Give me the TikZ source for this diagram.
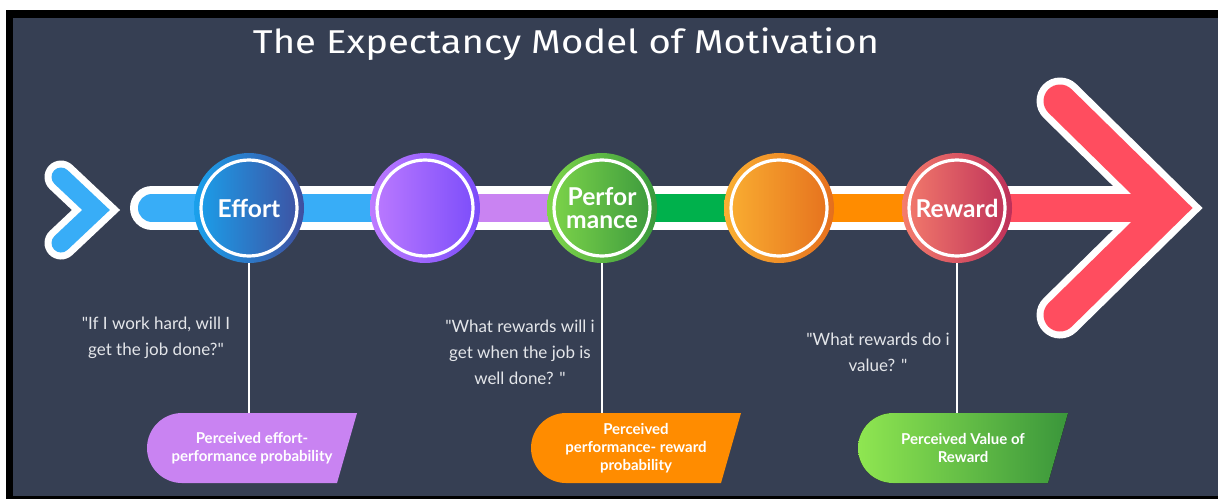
\documentclass[tikz,border=0pt]{standalone}
\usepackage{fontspec}
\setmainfont{Lato}
\newfontfamily\titlefont{Fira Sans}
\usetikzlibrary{positioning,calc}
\definecolor{panel}{HTML}{363F53}
\definecolor{quote}{HTML}{E4E6EA}
\definecolor{skyblue}{HTML}{38ADF7}
\definecolor{lilac}{HTML}{C983F2}
\definecolor{leaf}{HTML}{00B14C}
\definecolor{amber}{HTML}{FF8C00}
\definecolor{coral}{HTML}{FF4D5F}
% circle and tag gradients
\definecolor{effortL}{HTML}{1AA1EC}
\definecolor{effortR}{HTML}{3F4FA0}
\definecolor{violetL}{HTML}{BD7BFF}
\definecolor{violetR}{HTML}{7A4CFA}
\definecolor{perfL}{HTML}{7FD64A}
\definecolor{perfR}{HTML}{3A983D}
\definecolor{orangeL}{HTML}{FAB032}
\definecolor{orangeR}{HTML}{E56F1D}
\definecolor{rewardL}{HTML}{F47C6C}
\definecolor{rewardR}{HTML}{BD3059}
\definecolor{valueL}{HTML}{8FE651}
\definecolor{valueR}{HTML}{3A963B}
\newcommand{\qq}{\textquotedbl}
\tikzset{
  stage/.style 2 args={circle,minimum size=55pt,inner sep=0,text=white,
               left color=#1,right color=#2,align=center,
               font=\bfseries\fontsize{12.3}{11.5}\selectfont,
               path picture={\draw[white,line width=1.6pt]
                 (path picture bounding box.center) circle (24pt);}},
  probbox/.style={minimum width=105pt,minimum height=35pt,inner sep=0,
               text=white,align=center,
               font=\bfseries\fontsize{7.5}{9}\selectfont,
               path picture={\fill[#1]
                 ([xshift=17.5pt]path picture bounding box.north west)
                 -- (path picture bounding box.north east)
                 -- ([xshift=-10pt]path picture bounding box.south east)
                 -- ([xshift=17.5pt]path picture bounding box.south west)
                 arc[start angle=270,end angle=90,radius=17.5pt] -- cycle;}},
  question/.style={text=quote,align=center,font=\fontsize{8.5}{13}\selectfont},
  stem/.style={draw=white,line width=0.6pt},
  rimline/.style={white,line cap=round},
}

\begin{document}
\begin{tikzpicture}[x=0.5pt,y=-0.5pt]
  % frame and panel
  \fill[white](0,0)rectangle(1218,499);
  \fill[black](6,10)rectangle(1218,499);
  \fill[panel](13,18)rectangle(1218,496);
  \node[text=white,xscale=1.16,font=\titlefont\fontsize{16.5}{16.5}\selectfont]
    (title)at(566,44){The Expectancy Model of Motivation};

  % stops along the track
  \coordinate(s1)at(249,208);
  \coordinate(s2)at(425,208);
  \coordinate(s3)at(602,208);
  \coordinate(s4)at(779,208);
  \coordinate(s5)at(957,208);
  \coordinate(tip)at(1169,208);

  % track: white rim first, colours on top
  \draw[rimline,line width=22pt](152,208)--(tip);
  \draw[rimline,line width=16.5pt](61,177)--(96,210)--(61,243);
  \draw[rimline,line width=23.5pt](1060,101)--(tip)--(1060,315);
  \draw[skyblue,line width=9.5pt,line cap=round](61,177)--(96,210)--(61,243);
  \draw[skyblue,line width=14pt,line cap=round](152,208)--(s2);
  \draw[lilac,line width=14pt](s2)--(s3);
  \draw[leaf,line width=14pt](s3)--(s4);
  \draw[amber,line width=14pt](s4)--(s5);
  \draw[coral,line width=14pt](s5)--(tip);
  \draw[coral,line width=16.5pt,line cap=round](1060,101)--(tip)--(1060,315);

  % stage circles
  \node[stage={effortL}{effortR}](effort)at(s1){Effort};
  \node[stage={violetL}{violetR}](bridgeA)at(s2){};
  \node[stage={perfL}{perfR}](performance)at(s3){Perfor\\mance};
  \node[stage={orangeL}{orangeR}](bridgeB)at(s4){};
  \node[stage={rewardL}{rewardR}](reward)at(s5){Reward};

  % probability tags
  \node[probbox=lilac](effprob)at(252,448)
    {Perceived effort-\\performance probability};
  \node[probbox=amber](perfprob)at(636,448)
    {Perceived\\performance- reward\\probability};
  \node[probbox={left color=valueL,right color=valueR}](valprob)
    at(963,448){Perceived Value of\\Reward};

  \draw[stem](effort.south)--(effort.south|-effprob.north);
  \draw[stem](performance.south)--(performance.south|-perfprob.north);
  \draw[stem](reward.south)--(reward.south|-valprob.north);

  % questions
  \node[question](askeffort)at(156,338)
    {\qq If I work hard, will I\\get the job done?\qq};
  \node[question](askperf)at(520,352)
    {\qq What rewards will i\\get when the job is\\well done? \qq};
  \node[question](askvalue)at(878,352)
    {\qq What rewards do i\\value? \qq};
\end{tikzpicture}
\end{document}
